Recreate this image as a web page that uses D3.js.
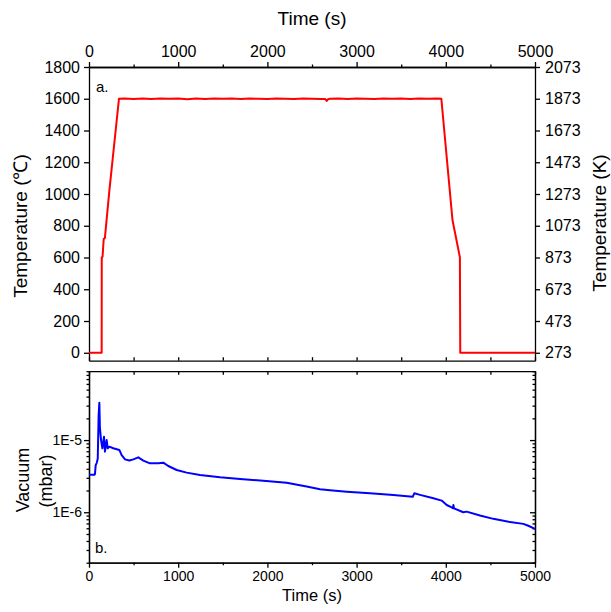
<!DOCTYPE html>
<html><head><meta charset="utf-8">
<script src="https://cdn.jsdelivr.net/npm/d3@7"></script>
<style>
body{margin:0;background:#fff;}
svg{display:block;font-family:"Liberation Sans",Arial,sans-serif;}
.ax path,.ax line{stroke:#000;stroke-width:1.3;}
</style></head><body>
<svg id="c" width="611" height="612"></svg>
<script>
// ---- data ----
const timeTicks = [0, 1000, 2000, 3000, 4000, 5000];
const timeMinor = [500, 1500, 2500, 3500, 4500];
const celsiusTicks = [0, 200, 400, 600, 800, 1000, 1200, 1400, 1600, 1800];
const kelvinTicks = [273, 473, 673, 873, 1073, 1273, 1473, 1673, 1873, 2073];
const vacMajor = [1e-6, 1e-5];
const vacMajorLabels = ["1E-6", "1E-5"];
const vacMinor = [2e-7,3e-7,4e-7,5e-7,6e-7,7e-7,8e-7,9e-7,2e-6,3e-6,4e-6,5e-6,6e-6,7e-6,8e-6,9e-6,2e-5,3e-5,4e-5,5e-5,6e-5,7e-5,8e-5,9e-5];

const tempTime = [0,142,143,152,165,178,228,336,400,500,600,700,800,900,1000,1100,1200,1300,1400,1500,1600,1700,1800,1900,2000,2100,2200,2300,2400,2500,2600,2650,2665,2680,2700,2800,2900,3000,3100,3200,3300,3400,3500,3600,3700,3800,3900,3950,4075,4158,4162,5000];
const tempC = [0,0,600,605,718,722,1020,1600,1602,1599,1601,1598,1602,1600,1601,1597,1602,1599,1601,1600,1602,1598,1601,1600,1599,1602,1600,1598,1601,1600,1599,1598,1586,1597,1600,1601,1599,1602,1600,1598,1601,1600,1602,1599,1601,1600,1602,1600,836,601,0,0];

const vacTime = [0,60,67,75,86,98,108,116,122,135,150,168,179,198,210,228,272,340,366,404,452,497,553,609,684,777,833,889,983,1095,1244,1469,1693,1954,2216,2440,2590,2702,2889,3150,3412,3629,3647,3711,3861,3954,4010,4066,4080,4085,4092,4196,4234,4383,4533,4720,4869,4925,5000];
const vacMbar = [3.3e-6,3.3e-6,3.4e-6,4.5e-6,4.8e-6,5.5e-6,2.2e-5,3.3e-5,1.5e-5,1.0e-5,7.7e-6,1.11e-5,6.9e-6,1.0e-5,7.7e-6,8.1e-6,7.7e-6,7.3e-6,6.2e-6,5.4e-6,5.2e-6,5.4e-6,5.76e-6,5.2e-6,4.76e-6,4.76e-6,4.86e-6,4.37e-6,3.85e-6,3.54e-6,3.28e-6,3.05e-6,2.89e-6,2.74e-6,2.57e-6,2.27e-6,2.08e-6,2.02e-6,1.93e-6,1.83e-6,1.74e-6,1.64e-6,1.83e-6,1.74e-6,1.56e-6,1.45e-6,1.26e-6,1.17e-6,1.14e-6,1.26e-6,1.13e-6,1.0e-6,1.02e-6,9.0e-7,8.1e-7,7.3e-7,6.9e-7,6.5e-7,5.9e-7];

// ---- layout ----
const svg = d3.select("#c");
const L = 89, R = 535;
const x = d3.scaleLinear([0, 5000], [L, R]);
const T1 = 67, B1 = 360.7;
const yC = d3.scaleLinear([-50, 1800], [B1, T1]);
const yK = d3.scaleLinear([223, 2073], [B1, T1]);
const T2 = 371.2, B2 = 562.7;
const yV = d3.scaleLog([2e-7, 9e-5], [B2, T2]);
const fmt = d3.format("d");

function ax(g, axis, tx, ty, fs){
  const s = svg.append("g").attr("class","ax").attr("transform",`translate(${tx},${ty})`).call(axis);
  s.selectAll("text").attr("font-size", fs).attr("fill","#000").attr("font-family","Liberation Sans, Arial, sans-serif");
  return s;
}
const noLab = () => "";

// ---- top panel ----
ax(svg, d3.axisTop(x).tickValues(timeTicks).tickFormat(fmt).tickSize(5).tickSizeOuter(0).tickPadding(5), 0, T1, 16);
ax(svg, d3.axisTop(x).tickValues(timeMinor).tickSize(2.5).tickSizeOuter(0).tickFormat(noLab), 0, T1, 16);
ax(svg, d3.axisBottom(x).tickValues(timeTicks.concat(timeMinor)).tickSize(-3.5).tickSizeOuter(0).tickFormat(noLab), 0, B1, 16);
ax(svg, d3.axisLeft(yC).tickValues(celsiusTicks).tickFormat(fmt).tickSize(5).tickSizeOuter(0).tickPadding(4), L, 0, 16);
ax(svg, d3.axisRight(yK).tickValues(kelvinTicks).tickFormat(fmt).tickSize(5).tickSizeOuter(0).tickPadding(5), R, 0, 16);

const tempLine = d3.line().x((d,i)=>x(tempTime[i])).y((d,i)=>yC(tempC[i]));
svg.append("path").datum(tempC).attr("d", tempLine).attr("fill","none").attr("stroke","#ff0000").attr("stroke-width",2).attr("stroke-linejoin","round");

svg.append("text").attr("x",96).attr("y",91.5).attr("font-size",15).text("a.");
svg.append("text").attr("x",(L+R)/2).attr("y",25).attr("text-anchor","middle").attr("font-size",19).text("Time (s)");
svg.append("text").attr("transform","translate(27,226) rotate(-90)").attr("text-anchor","middle").attr("font-size",19).text("Temperature (℃)");
svg.append("text").attr("transform","translate(606,223) rotate(-90)").attr("text-anchor","middle").attr("font-size",19).text("Temperature (K)");

// ---- bottom panel ----
ax(svg, d3.axisBottom(x).tickValues(timeTicks).tickFormat(fmt).tickSize(5).tickSizeOuter(0).tickPadding(3), 0, B2, 14);
ax(svg, d3.axisBottom(x).tickValues(timeMinor).tickSize(2.5).tickSizeOuter(0).tickFormat(noLab), 0, B2, 14);
ax(svg, d3.axisTop(x).tickValues(timeTicks.concat(timeMinor)).tickSize(-3.5).tickSizeOuter(0).tickFormat(noLab), 0, T2, 14);
ax(svg, d3.axisLeft(yV).tickValues(vacMajor).tickSize(5).tickSizeOuter(0).tickPadding(2).tickFormat((d,i)=>vacMajorLabels[i]), L, 0, 14);
ax(svg, d3.axisLeft(yV).tickValues(vacMinor).tickSize(2.5).tickSizeOuter(0).tickFormat(noLab), L, 0, 14);
ax(svg, d3.axisRight(yV).tickValues(vacMajor).tickSize(-5).tickSizeOuter(0).tickFormat(noLab), R, 0, 14);
ax(svg, d3.axisRight(yV).tickValues(vacMinor).tickSize(-2.5).tickSizeOuter(0).tickFormat(noLab), R, 0, 14);

const vacLine = d3.line().x((d,i)=>x(vacTime[i])).y((d,i)=>yV(vacMbar[i]));
svg.append("path").datum(vacMbar).attr("d", vacLine).attr("fill","none").attr("stroke","#0000ff").attr("stroke-width",2).attr("stroke-linejoin","round");

svg.append("text").attr("x",95).attr("y",552.5).attr("font-size",15).text("b.");
svg.append("text").attr("x",(L+R)/2).attr("y",601).attr("text-anchor","middle").attr("font-size",16.5).text("Time (s)");
svg.append("text").attr("transform","translate(29,480) rotate(-90)").attr("text-anchor","middle").attr("font-size",18).text("Vacuum");
svg.append("text").attr("transform","translate(52,481) rotate(-90)").attr("text-anchor","middle").attr("font-size",18).text("(mbar)");
</script></body></html>
